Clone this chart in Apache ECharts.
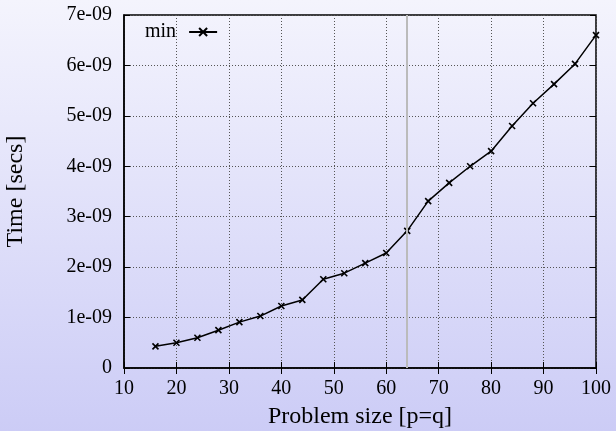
<!DOCTYPE html>
<html><head><meta charset="utf-8">
<script src="https://cdn.jsdelivr.net/npm/echarts@6/dist/echarts.min.js"></script>
<style>html,body{margin:0;padding:0;}#c{width:616px;height:431px;background:linear-gradient(to bottom,#f4f4fd,#ccccf6);}</style>
</head><body><div id="c"></div>
<script>
const sizes = [16,20,24,28,32,36,40,44,48,52,56,60,64,68,72,76,80,84,88,92,96,100];
const minTimes = [0.43e-9,0.50e-9,0.60e-9,0.75e-9,0.91e-9,1.03e-9,1.23e-9,1.35e-9,1.76e-9,1.88e-9,2.08e-9,2.28e-9,2.72e-9,3.31e-9,3.67e-9,4.00e-9,4.30e-9,4.80e-9,5.25e-9,5.63e-9,6.03e-9,6.60e-9];
const seriesName = 'min';
const markerX = 64;
const xLabel = 'Problem size [p=q]';
const yLabel = 'Time [secs]';

const chart = echarts.init(document.getElementById('c'), null, {renderer:'canvas'});
const font = 'Liberation Serif';
const fmtY = v => { const n = Math.round(v*1e9); return n===0 ? '0' : n + 'e-09'; };
const split = {show:true, lineStyle:{color:'#555', type:[1,2], width:1}};
chart.setOption({
  backgroundColor:'transparent',
  animation:false,
  textStyle:{fontFamily:font},
  grid:{left:124, right:20, top:15, bottom:63, show:true, borderColor:'#000', borderWidth:1.5, backgroundColor:'transparent', containLabel:false, outerBoundsMode:'none'},
  legend:{left:145, top:22, align:'right', itemWidth:28, itemHeight:10, padding:0,
    textStyle:{fontFamily:font, fontSize:20, color:'#000', padding:[0,8,0,0]}, data:[seriesName]},
  xAxis:[{type:'value', min:10, max:100, interval:10, name:xLabel, nameLocation:'middle', nameGap:37,
    nameTextStyle:{fontFamily:font, fontSize:24, color:'#000'},
    axisLine:{show:true, lineStyle:{color:'#000', width:1.5}}, axisTick:{show:true, inside:true, length:6, lineStyle:{color:'#000'}},
    axisLabel:{fontFamily:font, fontSize:20, color:'#000', margin:11}, splitLine:split},
    {type:'value', position:'top', min:10, max:100, interval:10, axisLine:{show:false}, axisTick:{show:true, inside:true, length:6, lineStyle:{color:'#000'}}, axisLabel:{show:false}, splitLine:{show:false}}],
  yAxis:[{type:'value', min:0, max:7e-9, interval:1e-9, name:yLabel, nameLocation:'middle', nameGap:96,
    nameTextStyle:{fontFamily:font, fontSize:24, color:'#000'},
    axisLine:{show:true, lineStyle:{color:'#000', width:1.5}}, axisTick:{show:true, inside:true, length:6, lineStyle:{color:'#000'}},
    axisLabel:{fontFamily:font, fontSize:20, color:'#000', margin:12, formatter:fmtY}, splitLine:split},
    {type:'value', position:'right', min:0, max:7e-9, interval:1e-9, axisLine:{show:false}, axisTick:{show:true, inside:true, length:6, lineStyle:{color:'#000'}}, axisLabel:{show:false}, splitLine:{show:false}}],
  series:[{name:seriesName, type:'line', data:sizes.map((s,i)=>[s,minTimes[i]]),
    lineStyle:{color:'#000', width:1.5}, itemStyle:{color:'#000', borderColor:'#000', borderWidth:1.6},
    symbol:'path://M0,0L10,10M10,0L0,10', symbolSize:6, showSymbol:true,
    markLine:{silent:true, symbol:'none', label:{show:false}, lineStyle:{color:'#bbb', width:2, type:'solid'}, data:[{xAxis:markerX}]}
  }]
});
</script></body></html>
